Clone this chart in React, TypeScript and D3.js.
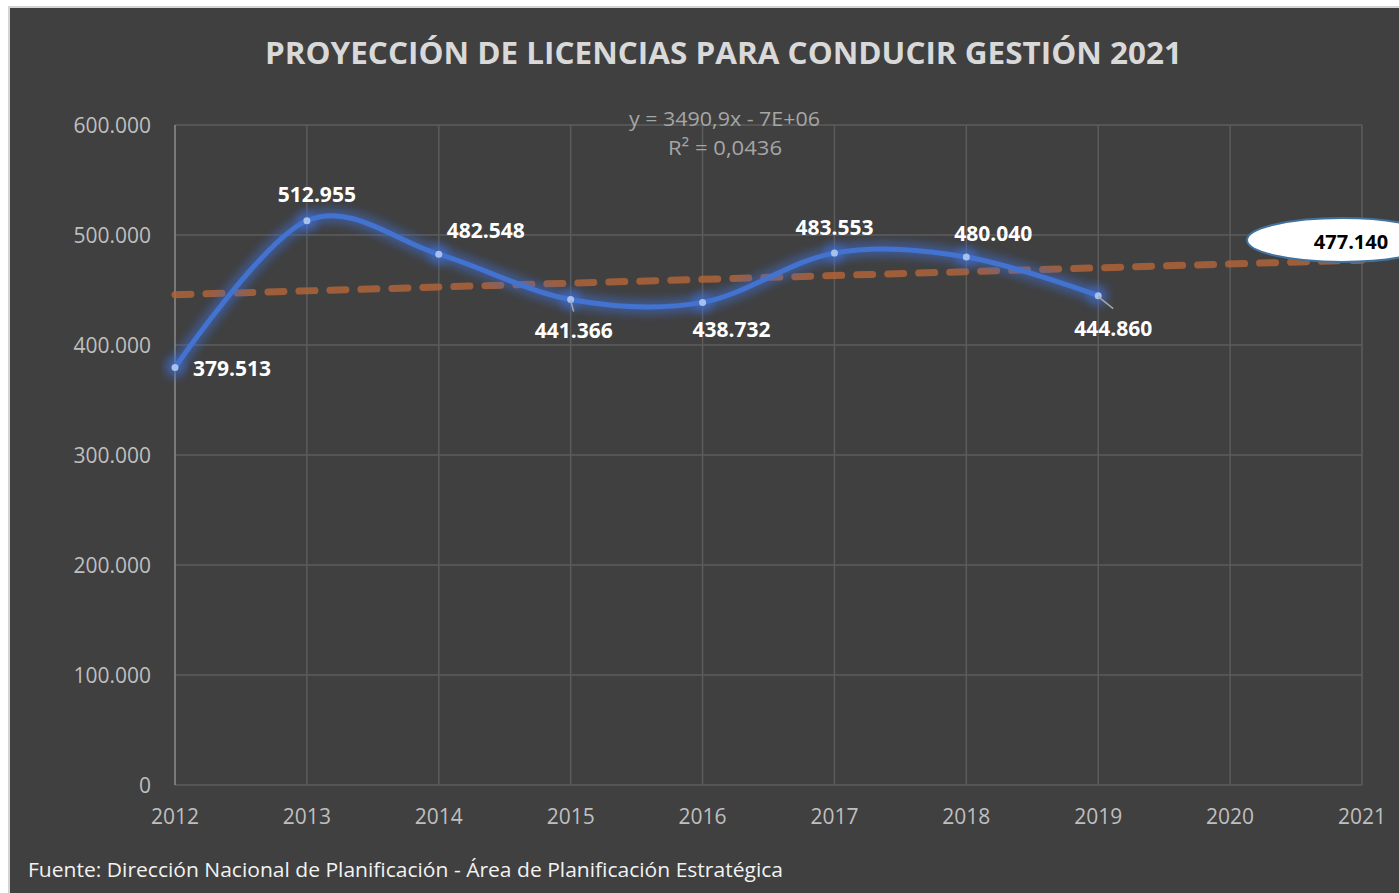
import React, { useRef, useEffect } from "react";
import * as d3 from "d3";

// Chart data
const YEARS = [2012, 2013, 2014, 2015, 2016, 2017, 2018, 2019, 2020, 2021];
const VALUES = [379513, 512955, 482548, 441366, 438732, 483553, 480040, 444860];
const Y_TICKS = [0, 100000, 200000, 300000, 400000, 500000, 600000];
const TITLE = "PROYECCIÓN DE LICENCIAS PARA CONDUCIR GESTIÓN 2021";
const EQUATION = "y = 3490,9x - 7E+06";
const R_SQUARED = "R² = 0,0436";
const PROJECTION_LABEL = "477.140";
const SOURCE = "Fuente: Dirección Nacional de Planificación - Área de Planificación Estratégica";

// label offsets relative to each point: [dx, dy, anchor]
const LABEL_OFFSETS: [number, number, string][] = [
  [18, 0, "start"],
  [10, -27, "middle"],
  [8, -24, "start"],
  [3, 31, "middle"],
  [29, 27, "middle"],
  [0, -26, "middle"],
  [27, -24, "middle"],
  [15, 32, "middle"],
];

const fmt = d3
  .formatLocale({ decimal: ",", thousands: ".", grouping: [3], currency: ["", ""] })
  .format(",.0f");

function App() {
  const svgRef = useRef<SVGSVGElement>(null);

  useEffect(() => {
    const svg = d3.select(svgRef.current);
    const width = 1399;
    const height = 893;
    svg.attr("width", width).attr("height", height);
    svg.selectAll("*").remove();

    const font = "'Open Sans', 'DejaVu Sans', sans-serif";

    const defs = svg.append("defs");
    const glow = defs.append("filter").attr("id", "glow")
      .attr("x", "-20%").attr("y", "-50%").attr("width", "140%").attr("height", "200%");
    glow.append("feGaussianBlur").attr("stdDeviation", 5);

    // Background + panel
    svg.append("rect").attr("width", width).attr("height", height).attr("fill", "#ffffff");
    svg.append("rect")
      .attr("x", 9).attr("y", 7)
      .attr("width", width).attr("height", height)
      .attr("fill", "#404040")
      .attr("stroke", "#d4d4d4")
      .attr("stroke-width", 2);

    const x = d3.scalePoint<number>().domain(YEARS).range([175, 1362]);
    const y = d3.scaleLinear().domain([0, 600000]).range([785, 125]);

    // Grid
    svg.append("g")
      .selectAll("line.h")
      .data(Y_TICKS)
      .join("line")
      .attr("x1", 175).attr("x2", 1362)
      .attr("y1", d => y(d)).attr("y2", d => y(d))
      .attr("stroke", "#5c5c5c").attr("stroke-width", 1.5);

    svg.append("g")
      .selectAll("line.v")
      .data(YEARS)
      .join("line")
      .attr("x1", d => x(d)!).attr("x2", d => x(d)!)
      .attr("y1", 125).attr("y2", 785)
      .attr("stroke", (d, i) => (i === 0 ? "#8c8c8c" : "#5c5c5c"))
      .attr("stroke-width", 1.5);

    // Axis labels
    svg.append("g")
      .selectAll("text")
      .data(Y_TICKS)
      .join("text")
      .attr("x", 151).attr("y", d => y(d))
      .attr("text-anchor", "end").attr("dominant-baseline", "central")
      .attr("fill", "#bfbfbf")
      .style("font-family", font).style("font-size", "21px")
      .text(d => fmt(d));

    svg.append("g")
      .selectAll("text")
      .data(YEARS)
      .join("text")
      .attr("x", d => x(d)!).attr("y", 816)
      .attr("text-anchor", "middle").attr("dominant-baseline", "central")
      .attr("fill", "#bfbfbf")
      .style("font-family", font).style("font-size", "21px")
      .text(d => d);

    // Title
    svg.append("text")
      .attr("x", 265).attr("y", 52)
      .attr("dominant-baseline", "central")
      .attr("textLength", 917).attr("lengthAdjust", "spacingAndGlyphs")
      .attr("fill", "#d9d9d9")
      .style("font-family", font).style("font-size", "30px").style("font-weight", "bold")
      .text(TITLE);

    // Trend line (linear regression of the series)
    const pts = VALUES.map((v, i) => [YEARS[i], v]);
    const mx = d3.mean(pts, p => p[0])!;
    const my = d3.mean(pts, p => p[1])!;
    const slope = d3.sum(pts, p => (p[0] - mx) * (p[1] - my)) / d3.sum(pts, p => (p[0] - mx) ** 2);
    const intercept = my - slope * mx;
    const trend = [YEARS[0], YEARS[YEARS.length - 1]].map(t => [t, slope * t + intercept]);

    svg.append("path")
      .datum(trend)
      .attr("d", d3.line<number[]>().x(d => x(d[0])!).y(d => y(d[1])))
      .attr("fill", "none")
      .attr("stroke", "#b0643a")
      .attr("stroke-opacity", 0.85)
      .attr("stroke-width", 7)
      .attr("stroke-linecap", "round")
      .attr("stroke-dasharray", "16 15");

    // Equation
    svg.append("text")
      .attr("x", 629).attr("y", 118)
      .attr("dominant-baseline", "central")
      .attr("textLength", 191).attr("lengthAdjust", "spacingAndGlyphs")
      .attr("fill", "#a6a6a6")
      .style("font-family", font).style("font-size", "20px")
      .text(EQUATION);
    svg.append("text")
      .attr("x", 668).attr("y", 147)
      .attr("dominant-baseline", "central")
      .attr("textLength", 114).attr("lengthAdjust", "spacingAndGlyphs")
      .attr("fill", "#a6a6a6")
      .style("font-family", font).style("font-size", "20px")
      .text(R_SQUARED);

    // Series line
    const line = d3.line<number>()
      .x((d, i) => x(YEARS[i])!)
      .y(d => y(d))
      .curve(d3.curveCatmullRom.alpha(0));

    svg.append("path")
      .datum(VALUES)
      .attr("d", line)
      .attr("fill", "none")
      .attr("stroke", "#3f6fd6")
      .attr("stroke-opacity", 0.55)
      .attr("stroke-width", 14)
      .attr("filter", "url(#glow)");

    svg.append("g")
      .selectAll("circle")
      .data(VALUES)
      .join("circle")
      .attr("cx", (d, i) => x(YEARS[i])!)
      .attr("cy", d => y(d))
      .attr("r", 10)
      .attr("fill", "#3f6fd6")
      .attr("opacity", 0.6)
      .attr("filter", "url(#glow)");

    svg.append("path")
      .datum(VALUES)
      .attr("d", line)
      .attr("fill", "none")
      .attr("stroke", "#4373d0")
      .attr("stroke-width", 5)
      .attr("stroke-linecap", "round");

    svg.append("g")
      .selectAll("circle")
      .data(VALUES)
      .join("circle")
      .attr("cx", (d, i) => x(YEARS[i])!)
      .attr("cy", d => y(d))
      .attr("r", 3.5)
      .attr("fill", "#a8c0ec");

    // Leader lines
    [3, 7].forEach(i => {
      const px = x(YEARS[i])!;
      const py = y(VALUES[i]);
      const [dx, dy] = LABEL_OFFSETS[i];
      svg.append("line")
        .attr("x1", px).attr("y1", py + 1)
        .attr("x2", px + dx * 1.0).attr("y2", py + dy - 19)
        .attr("stroke", "#a6a6a6").attr("stroke-width", 1.5);
    });

    // Data labels
    svg.append("g")
      .selectAll("text")
      .data(VALUES)
      .join("text")
      .attr("x", (d, i) => x(YEARS[i])! + LABEL_OFFSETS[i][0])
      .attr("y", (d, i) => y(d) + LABEL_OFFSETS[i][1])
      .attr("text-anchor", (d, i) => LABEL_OFFSETS[i][2])
      .attr("dominant-baseline", "central")
      .attr("fill", "#ffffff")
      .style("font-family", font).style("font-size", "21px").style("font-weight", "bold")
      .text(d => fmt(d));

    // Projection callout
    svg.append("ellipse")
      .attr("cx", 1342).attr("cy", 240)
      .attr("rx", 95).attr("ry", 22)
      .attr("fill", "#ffffff")
      .attr("stroke", "#41719c").attr("stroke-width", 2);
    svg.append("text")
      .attr("x", 1351).attr("y", 241)
      .attr("text-anchor", "middle").attr("dominant-baseline", "central")
      .attr("fill", "#000000")
      .style("font-family", font).style("font-size", "20px").style("font-weight", "bold")
      .text(PROJECTION_LABEL);

    // Source
    svg.append("text")
      .attr("x", 28).attr("y", 869)
      .attr("dominant-baseline", "central")
      .attr("textLength", 755).attr("lengthAdjust", "spacingAndGlyphs")
      .attr("fill", "#f2f2f2")
      .style("font-family", font).style("font-size", "20px")
      .text(SOURCE);
  }, []);

  return (
    <svg ref={svgRef} style={{ position: "absolute", left: 0, top: 0, display: "block" }}></svg>
  );
}

export default App;
